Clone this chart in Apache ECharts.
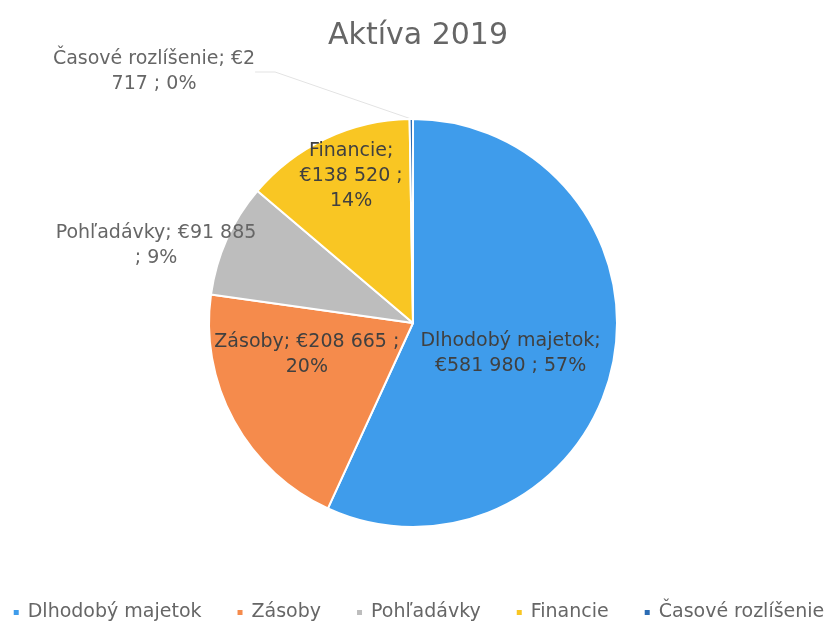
<!DOCTYPE html>
<html><head><meta charset="utf-8">
<script src="https://cdn.jsdelivr.net/npm/echarts@6/dist/echarts.min.js"></script>
<style>html,body{margin:0;padding:0;background:#fff}#c{width:836px;height:630px}</style>
</head><body><div id="c"></div>
<script>
const categories = ['Dlhodobý majetok', 'Zásoby', 'Pohľadávky', 'Financie', 'Časové rozlíšenie'];
const values = [581980, 208665, 91885, 138520, 2717];
const colors = ['#3f9ceb', '#f58b4c', '#bdbdbd', '#f9c623', '#2b6cb4'];
const title = 'Aktíva 2019';
// words per label line (text wrapping as in the reference)
const lineWords = [[2, 4], [4, 1], [3, 2], [1, 3, 1], [3, 3]];

function fmt(v) { return String(v).replace(/\B(?=(\d{3})+(?!\d))/g, ' '); }

const chart = echarts.init(document.getElementById('c'));
const font = '"DejaVu Sans", sans-serif';
const outside = [false, false, true, false, true];

chart.setOption({
  animation: false,
  color: colors,
  title: { text: title, left: 'center', top: 16,
    textStyle: { fontFamily: font, fontSize: 30, fontWeight: 'normal', color: '#666666' } },
  legend: {
    bottom: 3, left: 'center', icon: 'rect', itemWidth: 7, itemHeight: 7, itemGap: 34,
    textStyle: { fontFamily: font, fontSize: 19, color: '#666666', padding: [0, 0, 0, 3] },
    data: categories
  },
  series: [{
    type: 'pie',
    center: [413, 323],
    radius: 204,
    startAngle: 90,
    clockwise: true,
    avoidLabelOverlap: false,
    itemStyle: { borderColor: '#fff', borderWidth: 2 },
    label: {
      fontFamily: font, fontSize: 19, lineHeight: 25, color: '#404040', align: 'center',
      formatter: function (p) {
        const words = (p.name + '; €' + fmt(p.value) + ' ; ' + Math.round(p.percent) + '%').split(' ');
        const lines = []; let i = 0;
        lineWords[p.dataIndex].forEach(n => { lines.push(words.slice(i, i + n).join(' ')); i += n; });
        return lines.join('\n');
      }
    },
    labelLine: { show: false },
    labelLayout: function (p) {
      const idx = p.dataIndex;
      if (idx === 0) return { dx: -5, dy: 8 };
      if (idx === 1) return { dx: -14, dy: -19 };
      if (idx === 3) return { dx: -17, dy: -52 };
      if (idx === 2) return { x: 156, y: 246, align: 'center', verticalAlign: 'middle' };
      if (idx === 4) return { x: 154, y: 72, align: 'center', verticalAlign: 'middle' };
      return {};
    },
    data: categories.map((c, i) => ({
      name: c, value: values[i],
      label: { position: outside[i] ? 'outside' : 'inside', color: outside[i] ? '#666666' : '#404040' },
      labelLine: i === 4 ? { show: true, length: 20, length2: 20, lineStyle: { color: '#e3e3e3', width: 1 } } : { show: false }
    }))
  }]
});
</script></body></html>
